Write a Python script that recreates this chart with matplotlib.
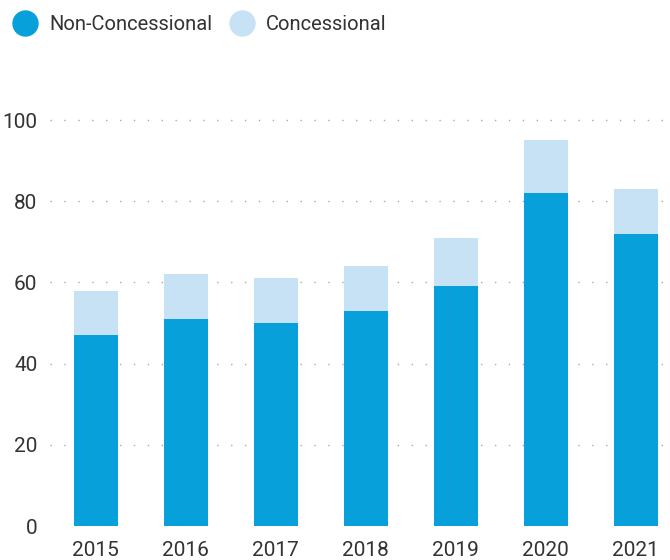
import matplotlib.pyplot as plt
from matplotlib.lines import Line2D

years = ["2015", "2016", "2017", "2018", "2019", "2020", "2021"]
nonConcessional = [47, 51, 50, 53, 59, 82, 72]
concessional = [11, 11, 11, 11, 12, 13, 11]
yticks = [0, 20, 40, 60, 80, 100]

darkBlue = "#07a0db"
lightBlue = "#c8e2f5"
textColor = "#333333"

plt.rcParams['font.family'] = ['Roboto', 'DejaVu Sans']

fig = plt.figure(figsize=(6.7, 5.6), dpi=100)
ax = fig.add_axes([0.0746, 0.0607, 0.9254, 0.725])

# stacked bars
x = range(len(years))
ax.bar(x, nonConcessional, width=0.49, color=darkBlue, zorder=3)
ax.bar(x, concessional, width=0.49, bottom=nonConcessional, color=lightBlue, zorder=3)

ax.set_xlim(-0.51, 6.38)
ax.set_ylim(0, 100)
ax.set_yticks(yticks)
ax.set_xticks(list(x))
ax.set_xticklabels(years)

# dotted grid
for y in yticks[1:]:
    ax.axhline(y, color="#aaaaaa", linestyle=(0, (1, 9)), linewidth=1, zorder=1, clip_on=False)

for s in ax.spines.values():
    s.set_visible(False)
ax.tick_params(length=0, labelsize=15, colors=textColor)
ax.tick_params(axis='y', pad=9)
ax.tick_params(axis='x', pad=11)

# legend
handles = [Line2D([], [], marker='o', linestyle='', markersize=18, color=darkBlue),
           Line2D([], [], marker='o', linestyle='', markersize=18, color=lightBlue)]
leg = fig.legend(handles, ["Non-Concessional", "Concessional"], loc="upper left",
                 bbox_to_anchor=(-0.012, 1.005), ncol=2, frameon=False, fontsize=14.5,
                 handletextpad=0.45, columnspacing=0.7, handlelength=1.5)
for t in leg.get_texts():
    t.set_color(textColor)

fig.savefig("out.png", dpi=100)
